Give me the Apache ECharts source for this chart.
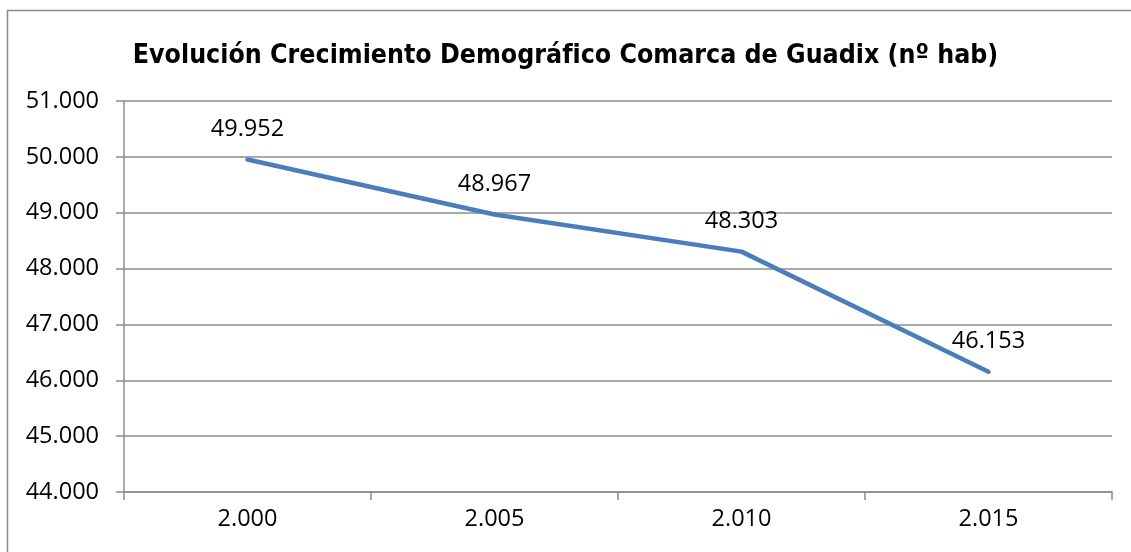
<!doctype html>
<html lang="es">
<head>
    <meta charset="UTF-8">
    <title>Evolución Crecimiento Demográfico Comarca de Guadix</title>
    <style>
        * {
            margin: 0;
            padding: 0;
        }

        body {
            background: #ffffff;
        }

        #chart {
            width: 1131px;
            height: 552px;
        }
    </style>
</head>
<body>
<div id="chart"></div>
<script src="https://cdn.jsdelivr.net/npm/echarts@6/dist/echarts.min.js"></script>
<script type="application/javascript">
    // datos
    const years = ['2.000', '2.005', '2.010', '2.015'];
    const habitantes = [49952, 48967, 48303, 46153];
    const yMin = 44000;
    const yMax = 51000;
    const yStep = 1000;

    // separador de miles con punto
    const fmt = function (v) {
        return String(Math.round(v)).replace(/\B(?=(\d{3})+(?!\d))/g, '.');
    }

    const gridColor = '#8c8c8c';
    const labelFont = '"Open Sans", "Noto Sans", sans-serif';

    const option = {
        animation: false,
        backgroundColor: '#ffffff',
        title: {
            text: 'Evolución Crecimiento Demográfico Comarca de Guadix (nº hab)',
            left: 'center',
            top: 38,
            textStyle: {
                fontFamily: '"Liberation Sans Narrow", "DejaVu Sans Condensed", sans-serif',
                fontWeight: 'bold',
                fontSize: 26.5,
                color: '#000000'
            }
        },
        graphic: [{
            type: 'rect',
            shape: {x: 7.5, y: 10.5, width: 1140, height: 600},
            style: {fill: 'none', stroke: '#8a8a8a', lineWidth: 1.5},
            silent: true
        }],
        grid: {
            left: 124,
            right: 19,
            top: 101,
            bottom: 60
        },
        xAxis: {
            type: 'category',
            data: years,
            boundaryGap: true,
            axisLine: {lineStyle: {color: gridColor, width: 1.5}},
            axisTick: {
                show: true,
                length: 8,
                interval: 0,
                lineStyle: {color: gridColor, width: 1.5}
            },
            axisLabel: {
                margin: 15,
                fontFamily: labelFont,
                fontSize: 23.5,
                color: '#000000'
            }
        },
        yAxis: {
            type: 'value',
            min: yMin,
            max: yMax,
            interval: yStep,
            axisLine: {show: true, lineStyle: {color: gridColor, width: 1.5}},
            axisTick: {show: true, length: 8, lineStyle: {color: gridColor, width: 1.5}},
            splitLine: {lineStyle: {color: gridColor, width: 1.5}},
            axisLabel: {
                margin: 25,
                fontFamily: labelFont,
                fontSize: 23.5,
                color: '#000000',
                formatter: fmt
            }
        },
        series: [{
            type: 'line',
            data: habitantes,
            showSymbol: true,
            symbol: 'circle',
            symbolSize: 1,
            lineStyle: {color: '#4a7ebb', width: 4.5, cap: 'round', join: 'round'},
            itemStyle: {color: '#4a7ebb'},
            label: {
                show: true,
                position: 'top',
                distance: 18,
                fontFamily: labelFont,
                fontSize: 23.5,
                color: '#000000',
                formatter: function (p) {
                    return fmt(p.value);
                }
            }
        }]
    };

    const chart = echarts.init(document.getElementById('chart'));
    chart.setOption(option);
</script>
</body>
</html>
